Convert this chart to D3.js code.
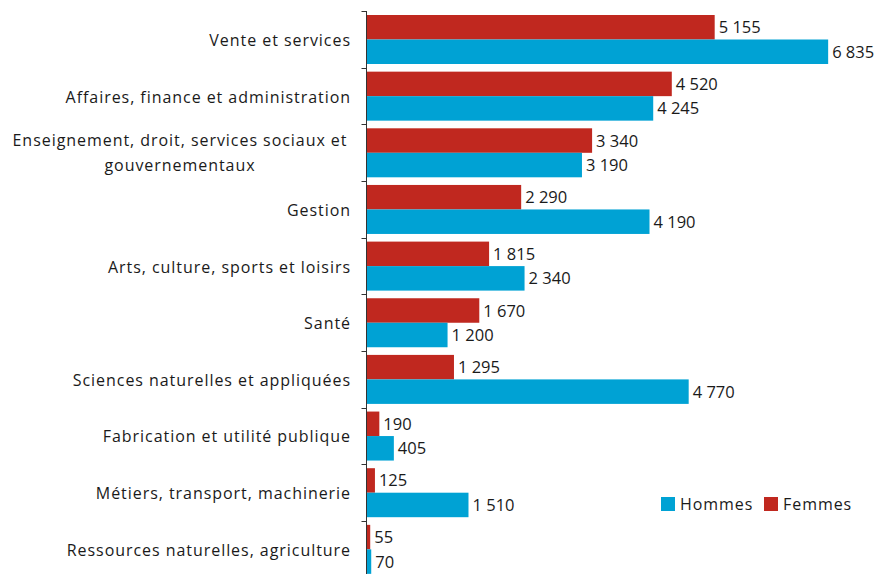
<!DOCTYPE html>
<html>
<head>
<meta charset="utf-8">
<script src="https://cdn.jsdelivr.net/npm/d3@7"></script>
<style>
  body { margin: 0; background: #fff; }
  text { font-family: "Open Sans", Lato, sans-serif; fill: #1a1a1a; }
  .lbl { letter-spacing: 0.95px; }
</style>
</head>
<body>
<svg width="880" height="574"></svg>
<script>
// data
var categories = [
    "Vente et services",
    "Affaires, finance et administration",
    "Enseignement, droit, services sociaux et|gouvernementaux",
    "Gestion",
    "Arts, culture, sports et loisirs",
    "Santé",
    "Sciences naturelles et appliquées",
    "Fabrication et utilité publique",
    "Métiers, transport, machinerie",
    "Ressources naturelles, agriculture"
];
var femmes = [5155, 4520, 3340, 2290, 1815, 1670, 1295, 190, 125, 55];
var hommes = [6835, 4245, 3190, 4190, 2340, 1200, 4770, 405, 1510, 70];
var seriesNames = ["Hommes", "Femmes"];
var colors = { Hommes: "#00a2d4", Femmes: "#c0281f" };

var svg = d3.select("svg"),
    axisX = 366.5,
    topY = 11,
    bandH = 56.65,
    fs = "16.5px",
    lfs = "16px";

var x = d3.scaleLinear().domain([0, 7000]).range([axisX, axisX + 472.8]);
var y = d3.scaleBand().domain(d3.range(categories.length))
    .range([topY, topY + bandH * categories.length]);

var fmt = function(v) { return d3.format(",")(v).replace(/,/g, "\u00a0"); };

var groups = svg.append("g").selectAll("g")
    .data(categories)
    .enter().append("g");

// femmes on top, hommes below
groups.append("rect")
    .attr("x", axisX)
    .attr("y", function(d, i) { return y(i) + 4; })
    .attr("width", function(d, i) { return x(femmes[i]) - axisX; })
    .attr("height", 24.5)
    .attr("fill", colors.Femmes);

groups.append("rect")
    .attr("x", axisX)
    .attr("y", function(d, i) { return y(i) + 28.5; })
    .attr("width", function(d, i) { return x(hommes[i]) - axisX; })
    .attr("height", 24.5)
    .attr("fill", colors.Hommes);

groups.append("text")
    .attr("x", function(d, i) { return x(femmes[i]) + 4; })
    .attr("y", function(d, i) { return y(i) + 16.5; })
    .attr("dy", "0.35em")
    .attr("font-size", fs)
    .text(function(d, i) { return fmt(femmes[i]); });

groups.append("text")
    .attr("x", function(d, i) { return x(hommes[i]) + 4; })
    .attr("y", function(d, i) { return y(i) + 41; })
    .attr("dy", "0.35em")
    .attr("font-size", fs)
    .text(function(d, i) { return fmt(hommes[i]); });

// category labels
groups.each(function(d, i) {
    var lines = d.split("|");
    var cy = y(i) + bandH / 2;
    if (lines.length == 1) {
        d3.select(this).append("text")
            .attr("class", "lbl")
            .attr("x", 351)
            .attr("y", cy + 1)
            .attr("dy", "0.35em")
            .attr("text-anchor", "end")
            .attr("font-size", lfs)
            .text(d);
    } else {
        var t = d3.select(this).append("text")
            .attr("class", "lbl")
            .attr("text-anchor", "middle")
            .attr("font-size", lfs);
        lines.forEach(function(l, k) {
            t.append("tspan")
                .attr("x", 180)
                .attr("y", cy - 12 + k * 25)
                .attr("dy", "0.35em")
                .text(l);
        });
    }
});

// axis line with ticks at band edges
svg.append("line")
    .attr("x1", axisX).attr("x2", axisX)
    .attr("y1", topY).attr("y2", 574)
    .attr("stroke", "#333").attr("stroke-width", 1);

svg.append("g").selectAll("line")
    .data(d3.range(categories.length + 1))
    .enter().append("line")
    .attr("x1", axisX - 5).attr("x2", axisX)
    .attr("y1", function(i) { return Math.round(topY + i * bandH) + 0.5; })
    .attr("y2", function(i) { return Math.round(topY + i * bandH) + 0.5; })
    .attr("stroke", "#333");

// legend
var legend = svg.append("g").selectAll("g")
    .data(seriesNames)
    .enter().append("g")
    .attr("transform", function(d, i) { return "translate(" + (661 + i * 103) + ",497)"; });

legend.append("rect")
    .attr("width", 14).attr("height", 14)
    .attr("fill", function(d) { return colors[d]; });

legend.append("text")
    .attr("class", "lbl")
    .attr("x", 19).attr("y", 7)
    .attr("dy", "0.35em")
    .attr("font-size", lfs)
    .text(function(d) { return d; });
</script>
</body>
</html>
